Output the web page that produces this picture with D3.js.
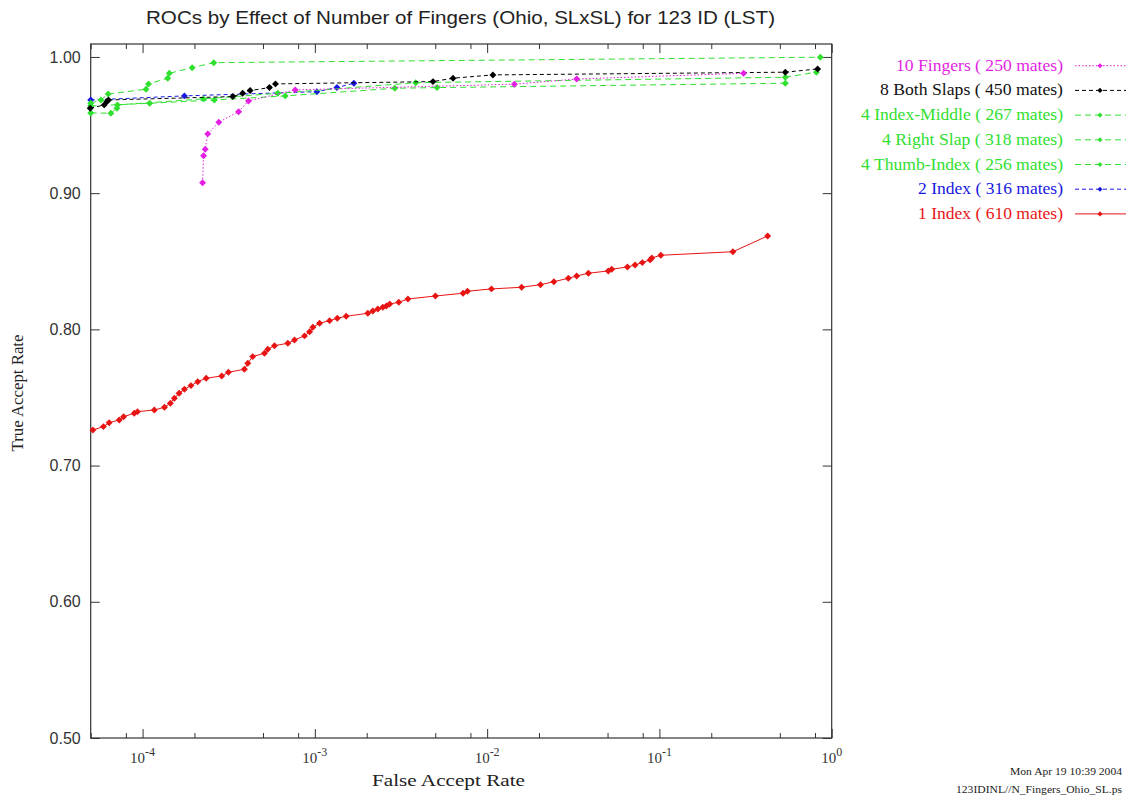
<!DOCTYPE html>
<html><head><meta charset="utf-8">
<script src="https://cdn.jsdelivr.net/npm/d3@7"></script>
<style>
html,body{margin:0;padding:0;background:#fff;}
svg{display:block;}
</style></head>
<body>
<svg id="chart" width="1126" height="797"></svg>
<script>
// ---- data ----
const titleText = "ROCs by Effect of Number of Fingers (Ohio, SLxSL) for 123 ID (LST)";
const xLabel = "False Accept Rate";
const yLabel = "True Accept Rate";
const yTicks = [0.5, 0.6, 0.7, 0.8, 0.9, 1.0];
const xMajorTicks = [1e-4, 1e-3, 1e-2, 1e-1, 1];
const xTickExponents = ["-4", "-3", "-2", "-1", "0"];
const xMinorMultipliers = [2, 5, 8];
const seriesNames = ["10 Fingers ( 250 mates)", "8 Both Slaps ( 450 mates)", "4 Index-Middle ( 267 mates)",
  "4 Right Slap ( 318 mates)", "4 Thumb-Index ( 256 mates)", "2 Index ( 316 mates)", "1 Index ( 610 mates)"];
const footerLines = ["Mon Apr 19 10:39 2004", "123IDINL//N_Fingers_Ohio_SL.ps"];

const fingers10FAR = [2.23e-4, 2.26e-4, 2.31e-4, 2.39e-4, 2.77e-4, 3.61e-4, 4.12e-4, 7.69e-4, 1.44e-2, 3.31e-2, 0.308];
const fingers10TAR = [0.9077, 0.9275, 0.9322, 0.9435, 0.9521, 0.9598, 0.9677, 0.9758, 0.980, 0.9838, 0.988];

const slaps8FAR = [4.97e-5, 5.99e-5, 6.21e-5, 6.34e-5, 3.34e-4, 3.81e-4, 4.21e-4, 5.45e-4, 5.91e-4, 4.85e-3, 6.34e-3, 1.08e-2, 0.538, 0.829];
const slaps8TAR = [0.9623, 0.9648, 0.9672, 0.9684, 0.9709, 0.9733, 0.9753, 0.9775, 0.9802, 0.9819, 0.9844, 0.9868, 0.9888, 0.9912];

const indexMiddleFAR = [5.0e-5, 5.73e-5, 6.32e-5, 1.047e-4, 1.083e-4, 1.40e-4, 1.43e-4, 1.94e-4, 2.59e-4, 0.859];
const indexMiddleTAR = [0.966, 0.9684, 0.9728, 0.9763, 0.9802, 0.9844, 0.988, 0.9921, 0.9958, 0.9998];

const rightSlapFAR = [5.0e-5, 1.10e-4, 2.61e-4, 6.73e-4, 2.91e-3, 5.12e-3, 0.538];
const rightSlapTAR = [0.964, 0.966, 0.9684, 0.9714, 0.977, 0.9775, 0.9807];

const thumbIndexFAR = [5.0e-5, 6.55e-5, 7.1e-5, 7.15e-5, 2.26e-4, 6.09e-4, 3.85e-3, 0.538, 0.815];
const thumbIndexTAR = [0.9589, 0.9587, 0.9623, 0.9648, 0.9692, 0.9733, 0.9811, 0.9851, 0.9888];

const index2FAR = [5.0e-5, 1.75e-4, 1.027e-3, 1.343e-3, 1.685e-3];
const index2TAR = [0.9684, 0.9714, 0.9745, 0.9775, 0.9807];

const index1FAR = [5.15e-5, 5.93e-5, 6.40e-5, 7.32e-5, 7.76e-5, 8.95e-5, 9.35e-5, 1.17e-4, 1.34e-4, 1.45e-4,
  1.53e-4, 1.63e-4, 1.75e-4, 1.91e-4, 2.09e-4, 2.34e-4, 2.88e-4, 3.15e-4, 3.90e-4, 4.08e-4,
  4.36e-4, 5.10e-4, 5.33e-4, 5.83e-4, 6.97e-4, 7.62e-4, 8.71e-4, 9.32e-4, 9.74e-4, 1.065e-3,
  1.218e-3, 1.35e-3, 1.52e-3, 2.03e-3, 2.17e-3, 2.32e-3, 2.48e-3, 2.60e-3, 2.72e-3, 3.07e-3,
  3.47e-3, 5.01e-3, 7.25e-3, 7.69e-3, 1.06e-2, 1.585e-2, 2.04e-2, 2.44e-2, 2.96e-2, 3.31e-2,
  3.87e-2, 5.05e-2, 5.29e-2, 6.52e-2, 7.22e-2, 7.96e-2, 8.83e-2, 9.03e-2, 0.1019, 0.267, 0.425];
const index1TAR = [0.7261, 0.7286, 0.7315, 0.7335, 0.7359, 0.7384, 0.7396, 0.7408, 0.7428, 0.7457,
  0.7494, 0.7531, 0.756, 0.7587, 0.7616, 0.7641, 0.7658, 0.7685, 0.7707, 0.7751,
  0.780, 0.7825, 0.7854, 0.788, 0.7898, 0.7922, 0.7952, 0.7983, 0.8015, 0.8045,
  0.8064, 0.8082, 0.8096, 0.8118, 0.8135, 0.815, 0.8162, 0.8172, 0.8186, 0.8199,
  0.8223, 0.8245, 0.8265, 0.828, 0.8297, 0.8309, 0.8328, 0.835, 0.8375, 0.8392,
  0.8412, 0.8429, 0.8441, 0.8458, 0.8473, 0.849, 0.851, 0.8524, 0.8544, 0.857, 0.8686];

// ---- layout / styles ----
const legendTextWidths = [167, 183, 202, 181, 202, 145, 145];
const series = [
  {name: seriesNames[0], far: fingers10FAR, tar: fingers10TAR, color: "#e21fe2", dash: "1.5,2"},
  {name: seriesNames[1], far: slaps8FAR, tar: slaps8TAR, color: "#000000", dash: "4,3"},
  {name: seriesNames[2], far: indexMiddleFAR, tar: indexMiddleTAR, color: "#2fe02f", dash: "6,4"},
  {name: seriesNames[3], far: rightSlapFAR, tar: rightSlapTAR, color: "#2fe02f", dash: "6,4"},
  {name: seriesNames[4], far: thumbIndexFAR, tar: thumbIndexTAR, color: "#2fe02f", dash: "6,4"},
  {name: seriesNames[5], far: index2FAR, tar: index2TAR, color: "#1818e0", dash: "4,3"},
  {name: seriesNames[6], far: index1FAR, tar: index1TAR, color: "#e81414", dash: null}
];

const svg = d3.select("#chart");
const L = 90.7, R = 831.7, T = 44, B = 738;
const x = d3.scaleLog().domain([5e-5, 1]).range([L, R]);
const y = d3.scaleLinear().domain([0.5, 1.0095]).range([B, T]);
const serif = "Liberation Serif, Times New Roman, serif";
const sans = "Liberation Sans, Arial, sans-serif";

// title
svg.append("text").attr("x", 460.5).attr("y", 24).attr("text-anchor", "middle")
  .attr("font-family", sans).attr("font-size", 19)
  .attr("textLength", 629).attr("lengthAdjust", "spacingAndGlyphs")
  .attr("fill", "#222").text(titleText);

// minor tick values
const xMinor = [];
for (let e = -5; e < 0; e++) xMinorMultipliers.forEach(m => { const v = m * Math.pow(10, e); if (v >= 5e-5 && v <= 1) xMinor.push(v); });

const axisColor = "#333";
function styleAxis(g){ g.select(".domain").remove(); g.selectAll("line").attr("stroke", axisColor); }

svg.append("g").attr("transform", `translate(0,${B})`)
  .call(d3.axisBottom(x).tickValues(xMajorTicks).tickSize(-9).tickFormat("")).call(styleAxis);
svg.append("g").attr("transform", `translate(0,${B})`)
  .call(d3.axisBottom(x).tickValues(xMinor).tickSize(-5).tickFormat("")).call(styleAxis);
svg.append("g").attr("transform", `translate(0,${T})`)
  .call(d3.axisTop(x).tickValues(xMajorTicks).tickSize(-9).tickFormat("")).call(styleAxis);
svg.append("g").attr("transform", `translate(0,${T})`)
  .call(d3.axisTop(x).tickValues(xMinor).tickSize(-5).tickFormat("")).call(styleAxis);
const yl = svg.append("g").attr("transform", `translate(${L},0)`)
  .call(d3.axisLeft(y).tickValues(yTicks).tickSize(-9).tickPadding(10).tickFormat(d3.format(".2f")))
  .call(styleAxis);
yl.selectAll("text").attr("font-family", sans).attr("font-size", 16).attr("fill", "#333");
svg.append("g").attr("transform", `translate(${R},0)`)
  .call(d3.axisRight(y).tickValues(yTicks).tickSize(-9).tickFormat("")).call(styleAxis);

// x tick labels with superscripts
const xl = svg.append("g");
xMajorTicks.forEach((v, i) => {
  const t = xl.append("text").attr("x", x(v)).attr("y", 763).attr("text-anchor", "middle")
    .attr("font-family", serif).attr("font-size", 15).attr("fill", "#333");
  t.append("tspan").text("10");
  t.append("tspan").attr("dy", -7).attr("font-size", 12).text(xTickExponents[i]);
});

// frame
svg.append("rect").attr("x", L).attr("y", T).attr("width", R - L).attr("height", B - T)
  .attr("fill", "none").attr("stroke", axisColor).attr("stroke-width", 1.2);

// axis labels
svg.append("text").attr("x", 448.5).attr("y", 786).attr("text-anchor", "middle")
  .attr("font-family", serif).attr("font-size", 17).attr("fill", "#222")
  .attr("textLength", 153).attr("lengthAdjust", "spacingAndGlyphs").text(xLabel);
svg.append("text").attr("transform", "translate(23,393) rotate(-90)").attr("text-anchor", "middle")
  .attr("font-family", serif).attr("font-size", 16.5).attr("fill", "#222")
  .attr("textLength", 117).attr("lengthAdjust", "spacingAndGlyphs").text(yLabel);

// series
const marker = d3.symbol().type(d3.symbolSquare).size(24);
const line = d3.line().x(d => x(d[0])).y(d => y(d[1]));
series.slice().reverse().forEach(s => {
  const pts = s.far.map((f, i) => [f, s.tar[i]]);
  svg.append("path").datum(pts).attr("d", line).attr("fill", "none")
    .attr("stroke", s.color).attr("stroke-width", 1)
    .attr("stroke-dasharray", s.dash);
  svg.append("g").selectAll("path").data(pts).join("path")
    .attr("transform", d => `translate(${x(d[0])},${y(d[1])}) rotate(45)`)
    .attr("d", marker).attr("fill", s.color);
});

// legend
const lg = svg.append("g");
series.forEach((s, i) => {
  const yy = 65.7 + i * 24.7;
  lg.append("text").attr("x", 1063).attr("y", yy + 5).attr("text-anchor", "end")
    .attr("font-family", serif).attr("font-size", 16.5)
    .attr("textLength", legendTextWidths[i]).attr("lengthAdjust", "spacingAndGlyphs")
    .attr("fill", s.color === "#000000" ? "#111" : s.color).text(s.name);
  lg.append("line").attr("x1", 1075).attr("x2", 1126).attr("y1", yy).attr("y2", yy)
    .attr("stroke", s.color).attr("stroke-width", 1).attr("stroke-dasharray", s.dash);
  lg.append("path").attr("transform", `translate(1100,${yy}) rotate(45)`)
    .attr("d", d3.symbol().type(d3.symbolSquare).size(13)).attr("fill", s.color);
});

// footer
svg.append("text").attr("x", 1122).attr("y", 775).attr("text-anchor", "end")
  .attr("font-family", serif).attr("font-size", 10).attr("fill", "#222")
  .attr("textLength", 112).attr("lengthAdjust", "spacingAndGlyphs").text(footerLines[0]);
svg.append("text").attr("x", 1122).attr("y", 793).attr("text-anchor", "end")
  .attr("font-family", serif).attr("font-size", 10).attr("fill", "#222")
  .attr("textLength", 166).attr("lengthAdjust", "spacingAndGlyphs").text(footerLines[1]);
</script>
</body></html>
